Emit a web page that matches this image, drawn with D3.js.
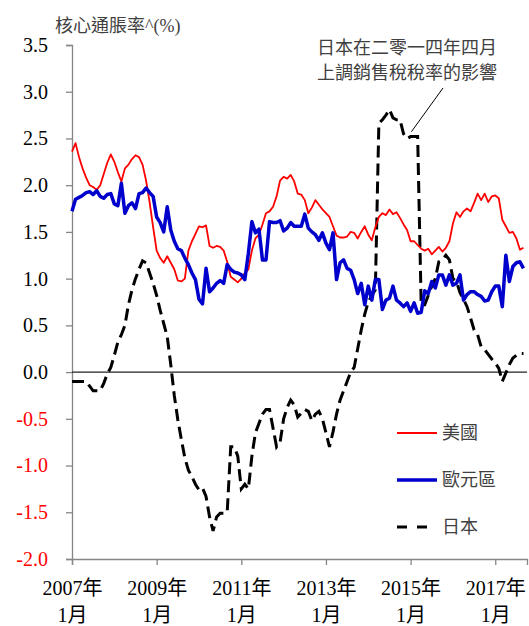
<!DOCTYPE html>
<html><head><meta charset="utf-8">
<script src="https://cdn.jsdelivr.net/npm/d3@7/dist/d3.min.js"></script>
<style>
html,body{margin:0;padding:0;background:#fff;}
svg{display:block;}
</style></head>
<body>
<script>
// Month index 0 = 2007年1月
const usData = [
2.36,2.45,2.30,2.18,2.08,2.00,1.98,1.95,2.00,2.12,
2.24,2.33,2.25,2.14,2.04,2.18,2.22,2.28,2.32,2.30,
2.22,2.05,1.82,1.55,1.30,1.22,1.17,1.24,1.17,1.10,
0.98,0.97,1.00,1.30,1.40,1.48,1.56,1.55,1.57,1.35,
1.33,1.35,1.34,1.30,1.18,1.02,0.99,0.96,1.00,1.06,
1.10,1.30,1.43,1.47,1.58,1.70,1.72,1.77,1.88,2.05,
2.09,2.07,2.11,2.04,1.91,1.90,1.84,1.70,1.76,1.84,
1.79,1.74,1.70,1.66,1.56,1.46,1.44,1.44,1.45,1.50,
1.49,1.43,1.50,1.56,1.47,1.41,1.55,1.66,1.70,1.68,
1.74,1.69,1.71,1.65,1.58,1.52,1.40,1.40,1.36,1.32,
1.30,1.32,1.26,1.30,1.34,1.29,1.33,1.40,1.59,1.71,
1.66,1.72,1.75,1.72,1.81,1.91,1.84,1.91,1.82,1.88,
1.89,1.86,1.63,1.56,1.49,1.50,1.43,1.31,1.33];
const euData = [
1.72,1.85,1.87,1.89,1.92,1.93,1.90,1.94,1.88,1.86,
1.90,1.91,1.80,1.78,2.02,1.70,1.78,1.81,1.75,1.91,
1.92,1.97,1.92,1.88,1.66,1.60,1.50,1.77,1.52,1.40,
1.32,1.30,1.22,1.15,1.06,0.99,0.78,0.73,1.11,0.86,
0.90,0.95,0.98,0.95,1.15,1.10,1.07,1.06,1.04,0.99,
1.27,1.61,1.49,1.53,1.20,1.20,1.61,1.60,1.60,1.62,
1.51,1.54,1.60,1.56,1.56,1.56,1.69,1.54,1.50,1.47,
1.41,1.49,1.38,1.31,1.49,0.99,1.17,1.20,1.11,1.09,
0.99,0.84,0.95,0.72,0.92,0.77,0.99,0.99,0.67,0.77,
0.79,0.92,0.77,0.74,0.70,0.74,0.65,0.74,0.63,0.64,
0.87,0.84,0.97,0.90,1.04,1.04,0.93,1.04,0.93,0.95,
1.04,0.77,0.83,0.86,0.86,0.83,0.81,0.76,0.77,0.86,
0.92,0.92,0.70,1.25,0.97,1.13,1.17,1.18,1.11];
const jpData = [
-0.10,-0.10,-0.10,-0.10,-0.10,-0.15,-0.20,-0.20,-0.20,-0.12,
-0.02,0.05,0.18,0.32,0.40,0.50,0.72,0.88,1.00,1.10,
1.19,1.17,1.06,0.95,0.82,0.66,0.52,0.38,0.08,-0.25,
-0.51,-0.72,-0.92,-1.05,-1.12,-1.20,-1.26,-1.24,-1.33,-1.55,
-1.70,-1.55,-1.51,-1.51,-1.50,-0.80,-0.80,-0.90,-1.25,-1.20,
-1.25,-0.90,-0.65,-0.55,-0.45,-0.40,-0.40,-0.60,-0.80,-0.75,
-0.50,-0.38,-0.30,-0.35,-0.48,-0.44,-0.40,-0.42,-0.52,-0.45,
-0.42,-0.50,-0.65,-0.80,-0.64,-0.45,-0.30,-0.20,-0.10,0.00,
0.05,0.25,0.45,0.62,0.75,0.82,0.88,2.66,2.70,2.75,
2.81,2.72,2.70,2.70,2.55,2.50,2.52,2.52,2.52,0.72,
0.72,0.82,0.92,1.00,1.18,1.20,1.25,1.20,1.00,0.97,
0.85,0.78,0.70,0.58,0.45,0.40,0.27,0.24,0.19,0.14,
0.10,0.04,-0.10,-0.01,0.08,0.15,0.18,0.20,0.20];

const yTicks = [-2.0,-1.5,-1.0,-0.5,0.0,0.5,1.0,1.5,2.0,2.5,3.0,3.5];
const xTickMonths = [0,24,48,72,96,120];
const xTickYears = ["2007年","2009年","2011年","2013年","2015年","2017年"];
const xTickMonthLabel = "1月";
const seriesNames = ["美國","歐元區","日本"];
const titleText = "核心通脹率^(%)";
const noteLines = ["日本在二零一四年四月","上調銷售稅稅率的影響"];
const noteMonth = 95.8, noteValue = 2.54;

const FONT = "'Liberation Serif','Times New Roman','Noto Sans CJK TC',serif";
const W = 529, H = 626;
const svg = d3.select("body").append("svg").attr("width", W).attr("height", H);

const x = d3.scaleLinear().domain([0, 129]).range([72, 527]);
const y = d3.scaleLinear().domain([-2, 3.5]).range([559, 45]);

// title
svg.append("text").attr("x", 55).attr("y", 32).attr("font-size", 18)
  .attr("fill", "#404040").text(titleText);

// y axis
const yAxis = svg.append("g").attr("transform", "translate(72,0)")
  .call(d3.axisLeft(y).tickValues(yTicks).tickSize(6).tickPadding(18)
    .tickFormat(d => d.toFixed(1)));
yAxis.select(".domain").attr("stroke", "#868686").attr("stroke-width", 1.3);
yAxis.selectAll(".tick line").attr("stroke", "#868686").attr("stroke-width", 1.3);
yAxis.selectAll(".tick text").attr("font-size", 20)
  .attr("fill", d => d < 0 ? "#ff0000" : "#000");

// x axis
const xAxis = svg.append("g").attr("transform", "translate(0,559)")
  .call(d3.axisBottom(x).tickValues(xTickMonths).tickSize(6).tickFormat(""));
xAxis.select(".domain").attr("stroke", "#868686").attr("stroke-width", 1.3);
xAxis.selectAll(".tick line").attr("stroke", "#868686").attr("stroke-width", 1.3);
xAxis.selectAll(".tick").each(function(d, i) {
  const t = d3.select(this).append("text").attr("fill", "#000")
    .attr("font-size", 20).attr("text-anchor", "middle");
  t.append("tspan").attr("x", 0).attr("y", 36).text(xTickYears[i]);
  t.append("tspan").attr("x", 0).attr("y", 63).text(xTickMonthLabel);
});

// zero line
svg.append("line").attr("x1", x(0)).attr("x2", x(129))
  .attr("y1", y(0)).attr("y2", y(0)).attr("stroke", "#222").attr("stroke-width", 1.3);

const line = d3.line().x((d, i) => x(i)).y(d => y(d));

svg.append("path").datum(jpData).attr("d", line).attr("fill", "none")
  .attr("stroke", "#000").attr("stroke-width", 3).attr("stroke-dasharray", "12,6");
svg.append("path").datum(usData).attr("d", line).attr("fill", "none")
  .attr("stroke", "#ff0000").attr("stroke-width", 1.8).attr("stroke-linejoin", "round");
svg.append("path").datum(euData).attr("d", line).attr("fill", "none")
  .attr("stroke", "#0000cc").attr("stroke-width", 3.5).attr("stroke-linejoin", "round");

// annotation
const note = svg.append("text").attr("font-size", 18).attr("fill", "#404040")
  .attr("text-anchor", "middle");
note.append("tspan").attr("x", 407).attr("y", 54).text(noteLines[0]);
note.append("tspan").attr("x", 407).attr("y", 79).text(noteLines[1]);
svg.append("line").attr("x1", 443).attr("y1", 88)
  .attr("x2", x(noteMonth) + 1.5).attr("y2", y(noteValue) - 3)
  .attr("stroke", "#000").attr("stroke-width", 1);

// legend
const legend = [
  {name: seriesNames[0], color: "#ff0000", w: 1.8, dash: null, y: 433},
  {name: seriesNames[1], color: "#0000cc", w: 3.5, dash: null, y: 480},
  {name: seriesNames[2], color: "#000", w: 3, dash: "10,10", y: 527}
];
legend.forEach(l => {
  svg.append("line").attr("x1", 397).attr("x2", 437).attr("y1", l.y).attr("y2", l.y)
    .attr("stroke", l.color).attr("stroke-width", l.w)
    .attr("stroke-dasharray", l.dash);
  svg.append("text").attr("x", 442).attr("y", l.y + 6).attr("font-size", 18)
    .attr("fill", "#404040").text(l.name);
});

svg.selectAll("text").style("font-family", FONT);
</script>
</body></html>
